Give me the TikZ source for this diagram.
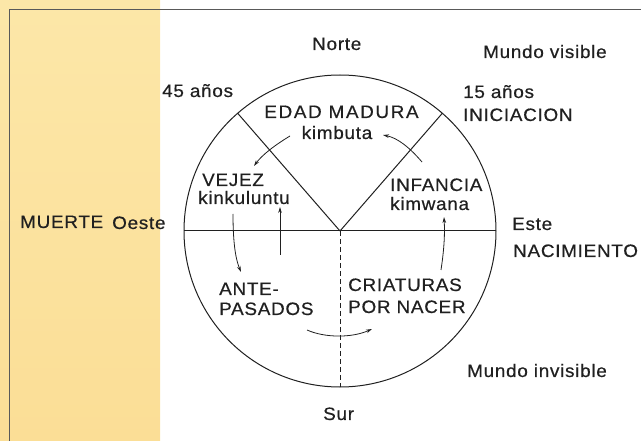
\documentclass[tikz,border=0pt]{standalone}
\usepackage{fontspec}
\setmainfont[FakeStretch=1.05,LetterSpace=4,FakeBold=0.5]{Liberation Sans}
\usetikzlibrary{arrows.meta}
\definecolor{strip}{RGB}{252,231,168}
\definecolor{striplow}{RGB}{251,222,150}
\definecolor{ink}{RGB}{32,32,32}
\begin{document}
\begin{tikzpicture}[x=1pt,y=-1pt,
  lbl/.style={anchor=base west, inner sep=0pt, text=ink, font=\fontsize{18}{21}\selectfont},
  clbl/.style={lbl, anchor=base},
  thick line/.style={draw=ink, line width=1pt},
  flow/.style={draw=ink, line width=0.8pt, -{Stealth[length=6pt,width=3.6pt]}}]
\useasboundingbox (0,0) rectangle (641,441);
% background strip
\shade[top color=strip, bottom color=striplow] (0,0) rectangle (160,441);
% frame
\draw[draw=black!65, line width=0.9pt] (9,441) -- (9,9) -- (641,9);
% circle and divisions
\coordinate (O) at (340,231);
\coordinate (W) at (184,231);
\coordinate (E) at (496,231);
\coordinate (S) at (340,387);
\draw[thick line] (O) circle[radius=156];
\draw[thick line] (W) -- (E);
\draw[thick line] (O) -- ++(-102.3,-117.7) coordinate (nw);
\draw[thick line] (O) -- ++(102.3,-117.7) coordinate (ne);
\draw[draw=ink, line width=0.9pt, dash pattern=on 5pt off 3pt] (O) -- (S);
% labels
\node[lbl] (norte) at (312,50) {Norte};
\node[lbl] (mvis) at (483,58) {Mundo visible};
\node[lbl] (a45) at (162,97) {45 años};
\node[lbl] (a15) at (463,98) {15 años};
\node[lbl] (inic) at (463,121) {INICIACION};
\node[clbl] (edad) at (341.5,118) {\addfontfeature{LetterSpace=9}EDAD MADURA};
\node[clbl] (kimb) at (337,139) {kimbuta};
\node[lbl] (vejez) at (202,186) {VEJEZ};
\node[lbl] (kink) at (198,204) {kinkuluntu};
\node[lbl] (muerte) at (20,228) {MUERTE};
\node[lbl] (oeste) at (112,229) {Oeste};
\node[lbl] (infan) at (390,191) {INFANCIA};
\node[lbl] (kimw) at (390,210) {kimwana};
\node[lbl] (este) at (512,230) {Este};
\node[lbl] (nacim) at (513,257) {NACIMIENTO};
\node[lbl] (ante) at (219,295) {ANTE-};
\node[lbl] (pasad) at (219,315) {PASADOS};
\node[lbl] (criat) at (348,291) {CRIATURAS};
\node[lbl] (porn) at (348,313) {POR NACER};
\node[lbl] (minv) at (467,377) {Mundo invisible};
\node[lbl] (sur) at (323,420) {Sur};
% arrow end points
\coordinate (a1s) at (290,136); \coordinate (a1e) at (254,166);
\coordinate (a2s) at (422,162); \coordinate (a2e) at (383,135);
\coordinate (a3s) at (441,270); \coordinate (a3e) at (444,217);
\coordinate (a4s) at (280,255); \coordinate (a4e) at (280,207);
\coordinate (a5s) at (233,214); \coordinate (a5e) at (241,272);
\coordinate (a6s) at (307,330); \coordinate (a6e) at (372,329);
\draw[flow] (a1s) .. controls (275,145) and (262,155) .. (a1e);
\draw[flow] (a2s) .. controls (410,148) and (398,138) .. (a2e);
\draw[flow] (a3s) .. controls (444,250) and (445,235) .. (a3e);
\draw[flow] (a4s) -- (a4e);
\draw[flow] (a5s) .. controls (233,245) and (236,260) .. (a5e);
\draw[flow] (a6s) .. controls (325,338) and (352,338) .. (a6e);
\end{tikzpicture}
\end{document}
